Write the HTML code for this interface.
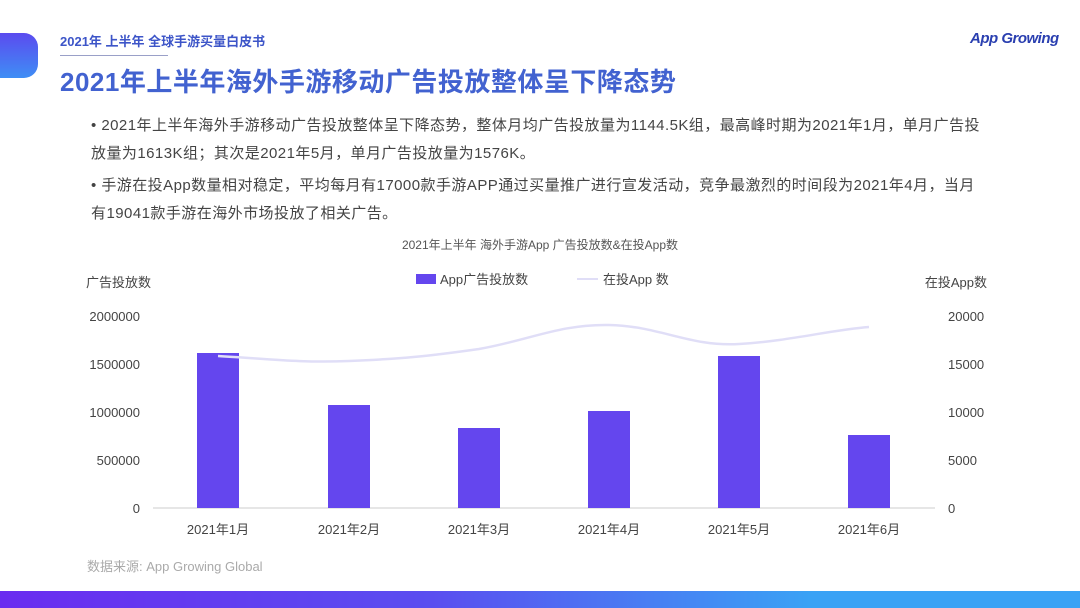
<!DOCTYPE html>
<html><head><meta charset="utf-8"><style>
body{margin:0;width:1080px;height:608px;background:#fff;position:relative;overflow:hidden;font-family:"Liberation Sans","Noto Sans CJK SC",sans-serif}
.tab{position:absolute;left:0;top:33px;width:38px;height:45px;border-radius:0 14px 14px 0;background:linear-gradient(180deg,#5b4bef,#3f8ef5)}
.sub{position:absolute;left:60px;top:31px;font-size:13px;color:#3d55c8;font-weight:bold}
.line{position:absolute;left:60px;top:55px;width:108px;height:1px;background:#9aa0c8}
.title{position:absolute;left:60px;top:62px;font-size:26px;font-weight:bold;color:#4262d0;letter-spacing:0.5px}
.logo{position:absolute;left:970px;top:30px;font-size:15px;color:#2a3fb0;font-style:italic;font-weight:bold;letter-spacing:-0.5px}
.p{position:absolute;left:91px;font-size:15px;color:#444;line-height:28px;width:893px;letter-spacing:0.45px}
.bot{position:absolute;left:0;top:591px;width:1080px;height:17px;background:linear-gradient(90deg,#6a2cf0,#5a4ef0 40%,#3aa2f5 75%,#3aa2f5)}
.src{position:absolute;left:87px;top:556px;font-size:13px;color:#aaa}
</style></head><body>
<div class="tab"></div>
<div class="sub">2021年 上半年 全球手游买量白皮书</div>
<div class="line"></div>
<div class="title">2021年上半年海外手游移动广告投放整体呈下降态势</div>
<div class="logo">App Growing</div>
<div class="p" style="top:112px">• 2021年上半年海外手游移动广告投放整体呈下降态势，整体月均广告投放量为1144.5K组，最高峰时期为2021年1月，单月广告投放量为1613K组；其次是2021年5月，单月广告投放量为1576K。</div>
<div class="p" style="top:172px">• 手游在投App数量相对稳定，平均每月有17000款手游APP通过买量推广进行宣发活动，竞争最激烈的时间段为2021年4月，当月有19041款手游在海外市场投放了相关广告。</div>
<svg style="position:absolute;left:0;top:0" width="1080" height="608" font-family="Liberation Sans, Noto Sans CJK SC, sans-serif">
<text x="540" y="249" font-size="12" fill="#555" text-anchor="middle">2021年上半年 海外手游App 广告投放数&amp;在投App数</text>
<text x="86" y="287" font-size="13" fill="#444">广告投放数</text>
<text x="987" y="287" font-size="13" fill="#444" text-anchor="end">在投App数</text>
<rect x="416" y="274" width="20" height="10" fill="#6446ee"/>
<text x="440" y="284" font-size="13" fill="#444">App广告投放数</text>
<line x1="577" y1="279" x2="598" y2="279" stroke="#e0def7" stroke-width="2"/>
<text x="603" y="284" font-size="13" fill="#444">在投App 数</text>
<g font-size="13" fill="#444" text-anchor="end">
<text x="140" y="321">2000000</text><text x="140" y="369">1500000</text><text x="140" y="417">1000000</text><text x="140" y="465">500000</text><text x="140" y="513">0</text>
</g>
<g font-size="13" fill="#444" text-anchor="start">
<text x="948" y="321">20000</text><text x="948" y="369">15000</text><text x="948" y="417">10000</text><text x="948" y="465">5000</text><text x="948" y="513">0</text>
</g>
<line x1="153" y1="508" x2="935" y2="508" stroke="#ccc"/>
<g fill="#6446ee">
<rect x="197" y="353" width="42" height="155"/>
<rect x="328" y="405" width="42" height="103"/>
<rect x="458" y="428" width="42" height="80"/>
<rect x="588" y="411" width="42" height="97"/>
<rect x="718" y="356" width="42" height="152"/>
<rect x="848" y="435" width="42" height="73"/>
</g>
<path d="M218,356 C270,359 300,363 349,361 C400,359 430,356 479,349 C530,340 560,324 609,325 C660,326 690,347 739,344 C790,341 830,330 869,327" fill="none" stroke="#e0def7" stroke-width="2.5"/>
<g font-size="13" fill="#444" text-anchor="middle">
<text x="218" y="534">2021年1月</text><text x="349" y="534">2021年2月</text><text x="479" y="534">2021年3月</text><text x="609" y="534">2021年4月</text><text x="739" y="534">2021年5月</text><text x="869" y="534">2021年6月</text>
</g>
</svg>
<div class="src">数据来源: App Growing Global</div>
<div class="bot"></div>
</body></html>
